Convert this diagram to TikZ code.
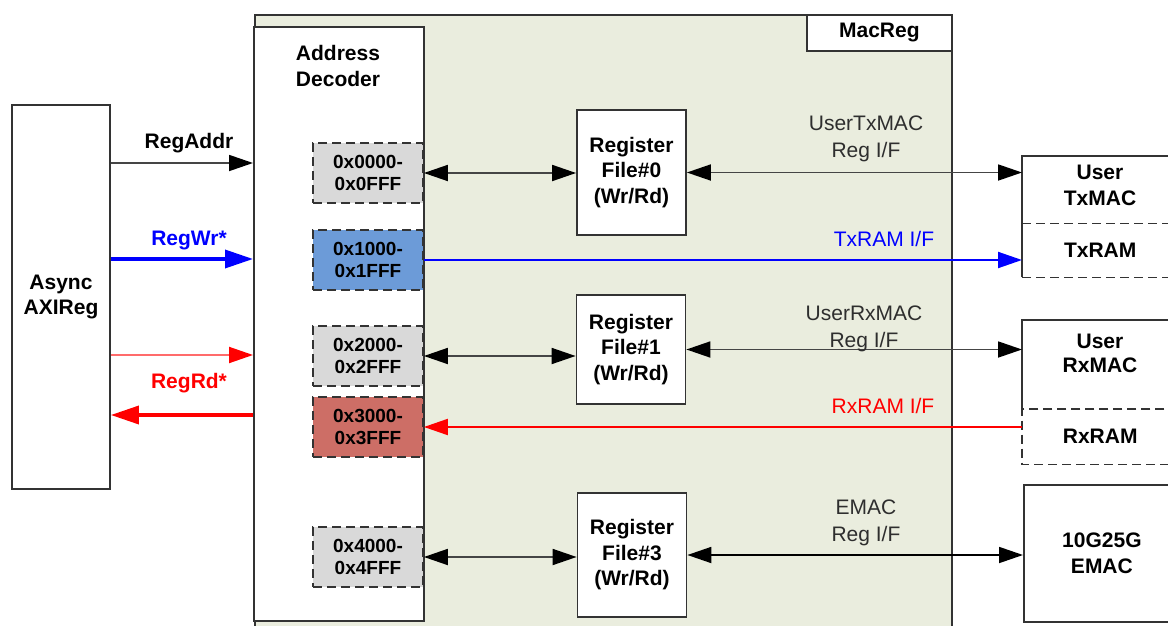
\documentclass[tikz,border=0pt]{standalone}
\usepackage{fontspec}
\setmainfont{Liberation Sans}
\usetikzlibrary{arrows.meta}
\definecolor{bgmac}{HTML}{EAEDDE}
\definecolor{boxline}{HTML}{333333}
\definecolor{grayfill}{HTML}{D9D9D9}
\definecolor{bluefill}{HTML}{6C9BD8}
\definecolor{redfill}{HTML}{CD6E66}
\definecolor{dline}{HTML}{454545}
\definecolor{lightred}{HTML}{FF6B6B}
\definecolor{textgray}{HTML}{2E2E2E}
\definecolor{sigblue}{HTML}{0000FF}
\definecolor{sigred}{HTML}{FF0000}
\begin{document}
\begin{tikzpicture}[x=1pt,y=-1pt,
  font=\bfseries\fontsize{21}{25.5}\selectfont,
  box/.style={draw=boxline, line width=1.8pt, fill=white, align=center, inner sep=0pt},
  hexbox/.style={draw=boxline, line width=1.8pt, dash pattern=on 9pt off 5pt, minimum width=110pt, minimum height=60pt, align=center, inner sep=0pt, font=\bfseries\fontsize{19}{22}\selectfont},
  rfbox/.style={box, minimum width=109pt},
  sidebox/.style={fill=white, inner sep=0pt, anchor=north west, minimum width=156pt, align=center},
  onetip/.style={-{Triangle[length=24pt,width=16pt,color=black]}},
  twotips/.style={{Triangle[length=24pt,width=16pt,color=black]}-{Triangle[length=24pt,width=16pt,color=black]}},
  thinline/.style={draw=dline, line width=1.8pt},
  iflabel/.style={font=\normalfont\fontsize{21}{27}\selectfont, text=textgray, align=center},
  edgeline/.style={draw=boxline, line width=1.8pt},
  dashline/.style={draw=boxline, line width=1.8pt, dash pattern=on 9pt off 5pt}
]
\clip (0,0) rectangle (1168,626);
\fill[white] (0,0) rectangle (1168,626);

% MacReg outer block
\node[draw=boxline, line width=1.8pt, fill=bgmac, minimum width=697pt, minimum height=640pt, anchor=north west, inner sep=0pt] (macreg) at (254,14) {};
\node[box, anchor=north east, minimum width=145pt, minimum height=36pt] (tag) at (macreg.north east) {MacReg};

% Address decoder
\node[box, anchor=north west, minimum width=170pt, minimum height=594pt] (dec) at (253,26) {};
\node[align=center] (dectext) at (338,66) {Address\\Decoder};

% Async AXIReg
\node[box, minimum width=98pt, minimum height=384pt] (async) at (61,297) {Async\\AXIReg};

% address ranges
\node[hexbox, fill=grayfill] (h0) at (368,173) {0x0000-\\0x0FFF};
\node[hexbox, fill=bluefill] (h1) at (368,260) {0x1000-\\0x1FFF};
\node[hexbox, fill=grayfill] (h2) at (368,356) {0x2000-\\0x2FFF};
\node[hexbox, fill=redfill] (h3) at (368,427) {0x3000-\\0x3FFF};
\node[hexbox, fill=grayfill] (h4) at (368,557) {0x4000-\\0x4FFF};

% register files
\node[rfbox, minimum height=125pt] (rf0) at (631.5,172.5) {Register\\File\#0\\(Wr/Rd)};
\node[rfbox, minimum height=109pt] (rf1) at (631,349.5) {Register\\File\#1\\(Wr/Rd)};
\node[rfbox, minimum height=124pt] (rf3) at (632,555) {Register\\File\#3\\(Wr/Rd)};

% right side blocks
\node[sidebox, minimum height=67pt] (txmac) at (1022,156) {};
\node[sidebox, minimum height=54pt] (txram) at (1022,223) {TxRAM};
\node[align=center] (txmactext) at (1100,185.5) {User\\TxMAC};
\draw[edgeline] (txram.south west) -- (txmac.north west) -- (txmac.north east);
\draw[dashline] (txmac.south west) -- (txmac.south east);
\draw[dashline] (txram.south west) -- (txram.south east);

\node[sidebox, minimum height=89pt] (rxmac) at (1022,320) {};
\node[sidebox, minimum height=55pt] (rxram) at (1022,409) {RxRAM};
\node[align=center, font=\bfseries\fontsize{21}{23.5}\selectfont] (rxmactext) at (1100,353.5) {User\\RxMAC};
\draw[edgeline] (rxmac.south west) -- (rxmac.north west) -- (rxmac.north east);
\draw[dashline] (rxram.north east) -- (rxram.north west) -- (rxram.south west) -- (rxram.south east);

\node[box, anchor=north west, minimum width=156pt, minimum height=137pt] (emac) at (1023,484) {10G25G\\EMAC};

% left side signals
\coordinate (yaddr) at (0,163);
\coordinate (ywr) at (0,259);
\coordinate (yrdreq) at (0,355);
\coordinate (yrd) at (0,415);
\draw[thinline, onetip] (async.east |- yaddr) -- (dec.west |- yaddr);
\draw[draw=sigblue, line width=3.5pt, -{Triangle[length=28pt,width=18pt]}] (async.east |- ywr) -- (dec.west |- ywr);
\draw[draw=lightred, line width=2pt, -{Triangle[length=24pt,width=16pt,color=sigred]}] (async.east |- yrdreq) -- (dec.west |- yrdreq);
\draw[draw=sigred, line width=3.5pt, -{Triangle[length=28pt,width=18pt]}] (dec.west |- yrd) -- (async.east |- yrd);
\node (laddr) at (189,143) {RegAddr};
\node[text=sigblue] (lwr) at (189,240) {RegWr*};
\node[text=sigred] (lrd) at (189,383) {RegRd*};

% inner connections
\draw[thinline, twotips] (h0.east) -- (h0.east -| rf0.west);
\draw[thinline, twotips] (rf0.east) -- (rf0.east -| txmac.west);
\draw[draw=sigblue, line width=2pt, onetip, -{Triangle[length=24pt,width=16pt,color=sigblue]}] (h1.east) -- (h1.east -| txram.west);
\draw[thinline, twotips] (h2.east) -- (h2.east -| rf1.west);
\draw[thinline, twotips] (rf1.east) -- (rf1.east -| rxmac.west);
\draw[draw=sigred, line width=2pt, -{Triangle[length=24pt,width=16pt,color=sigred]}] (h3.east -| rxram.west) -- (h3.east);
\draw[thinline, twotips] (h4.east) -- (h4.east -| rf3.west);
\draw[draw=black, line width=1.8pt, twotips] (rf3.east) -- (rf3.east -| emac.west);

% interface labels
\node[iflabel] (ltx) at (866,138.5) {UserTxMAC\\Reg I/F};
\node[iflabel, text=sigblue] (ltxram) at (884,239) {TxRAM I/F};
\node[iflabel] (lrx) at (864,329) {UserRxMAC\\Reg I/F};
\node[iflabel, text=sigred] (lrxram) at (883,406) {RxRAM I/F};
\node[iflabel] (lemac) at (866,522.5) {EMAC\\Reg I/F};
\end{tikzpicture}
\end{document}
